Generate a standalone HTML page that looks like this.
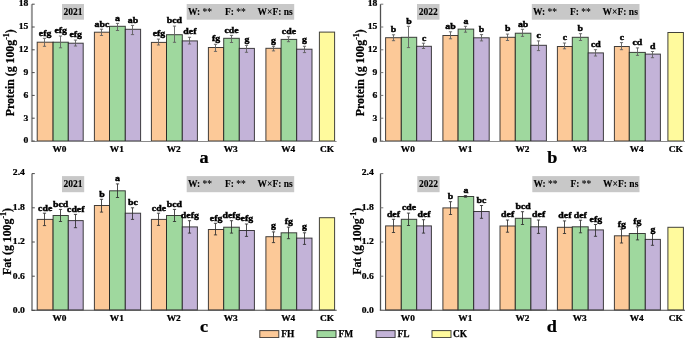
<!DOCTYPE html>
<html><head><meta charset="utf-8"><style>
html,body{margin:0;padding:0;background:#fff;overflow:hidden;}
svg{display:block;will-change:transform;filter:blur(0.35px);}
text{font-family:"Liberation Serif", serif;font-weight:bold;fill:#000;stroke:#000;stroke-width:0.25px;}
text.ns{stroke-width:0.1px;}
text.lb{stroke-width:0.4px;}
</style></head><body>
<svg width="685" height="338" viewBox="0 0 685 338">
<rect width="685" height="338" fill="#fff"/>
<rect x="37.20" y="42.20" width="15.90" height="98.80" fill="#fcc998" stroke="rgba(25,25,25,0.82)" stroke-width="1"/>
<path d="M44.50 38.30V46.30M42.90 38.30h3.2M42.90 46.30h3.2" stroke="#606060" stroke-width="0.9" fill="none"/>
<text transform="translate(45.15,35.60) scale(1.2,1)" font-size="8.2" text-anchor="middle" class="lb">efg</text>
<rect x="53.10" y="42.20" width="15.20" height="98.80" fill="#9fd89e" stroke="rgba(25,25,25,0.82)" stroke-width="1"/>
<path d="M60.50 36.00V47.80M58.90 36.00h3.2M58.90 47.80h3.2" stroke="#606060" stroke-width="0.9" fill="none"/>
<text transform="translate(60.70,33.30) scale(1.2,1)" font-size="8.2" text-anchor="middle" class="lb">efg</text>
<rect x="68.30" y="43.20" width="14.90" height="97.80" fill="#c3b3d8" stroke="rgba(25,25,25,0.82)" stroke-width="1"/>
<path d="M75.50 40.10V46.00M73.90 40.10h3.2M73.90 46.00h3.2" stroke="#606060" stroke-width="0.9" fill="none"/>
<text transform="translate(75.75,37.40) scale(1.2,1)" font-size="8.2" text-anchor="middle" class="lb">efg</text>
<rect x="94.40" y="32.20" width="15.10" height="108.80" fill="#fcc998" stroke="rgba(25,25,25,0.82)" stroke-width="1"/>
<path d="M101.50 29.20V35.50M99.90 29.20h3.2M99.90 35.50h3.2" stroke="#606060" stroke-width="0.9" fill="none"/>
<text transform="translate(101.95,26.50) scale(1.2,1)" font-size="8.2" text-anchor="middle" class="lb">abc</text>
<rect x="109.50" y="26.30" width="15.80" height="114.70" fill="#9fd89e" stroke="rgba(25,25,25,0.82)" stroke-width="1"/>
<path d="M117.50 23.40V30.50M115.90 23.40h3.2M115.90 30.50h3.2" stroke="#606060" stroke-width="0.9" fill="none"/>
<text transform="translate(117.40,20.70) scale(1.2,1)" font-size="8.2" text-anchor="middle" class="lb">a</text>
<rect x="125.30" y="29.30" width="15.30" height="111.70" fill="#c3b3d8" stroke="rgba(25,25,25,0.82)" stroke-width="1"/>
<path d="M132.50 25.40V34.60M130.90 25.40h3.2M130.90 34.60h3.2" stroke="#606060" stroke-width="0.9" fill="none"/>
<text transform="translate(132.95,22.70) scale(1.2,1)" font-size="8.2" text-anchor="middle" class="lb">ab</text>
<rect x="151.40" y="42.40" width="15.10" height="98.60" fill="#fcc998" stroke="rgba(25,25,25,0.82)" stroke-width="1"/>
<path d="M158.50 39.10V45.00M156.90 39.10h3.2M156.90 45.00h3.2" stroke="#606060" stroke-width="0.9" fill="none"/>
<text transform="translate(158.95,36.40) scale(1.2,1)" font-size="8.2" text-anchor="middle" class="lb">efg</text>
<rect x="166.50" y="34.70" width="15.80" height="106.30" fill="#9fd89e" stroke="rgba(25,25,25,0.82)" stroke-width="1"/>
<path d="M174.50 26.10V42.30M172.90 26.10h3.2M172.90 42.30h3.2" stroke="#606060" stroke-width="0.9" fill="none"/>
<text transform="translate(174.40,23.40) scale(1.2,1)" font-size="8.2" text-anchor="middle" class="lb">bcd</text>
<rect x="182.30" y="40.90" width="15.10" height="100.10" fill="#c3b3d8" stroke="rgba(25,25,25,0.82)" stroke-width="1"/>
<path d="M189.50 37.30V44.00M187.90 37.30h3.2M187.90 44.00h3.2" stroke="#606060" stroke-width="0.9" fill="none"/>
<text transform="translate(189.85,34.10) scale(1.2,1)" font-size="8.2" text-anchor="middle" class="lb">def</text>
<rect x="208.40" y="47.50" width="15.30" height="93.50" fill="#fcc998" stroke="rgba(25,25,25,0.82)" stroke-width="1"/>
<path d="M215.50 44.30V51.40M213.90 44.30h3.2M213.90 51.40h3.2" stroke="#606060" stroke-width="0.9" fill="none"/>
<text transform="translate(216.05,41.30) scale(1.2,1)" font-size="8.2" text-anchor="middle" class="lb">fg</text>
<rect x="223.70" y="38.30" width="15.60" height="102.70" fill="#9fd89e" stroke="rgba(25,25,25,0.82)" stroke-width="1"/>
<path d="M231.50 35.40V42.50M229.90 35.40h3.2M229.90 42.50h3.2" stroke="#606060" stroke-width="0.9" fill="none"/>
<text transform="translate(231.50,32.70) scale(1.2,1)" font-size="8.2" text-anchor="middle" class="lb">cde</text>
<rect x="239.30" y="48.40" width="15.10" height="92.60" fill="#c3b3d8" stroke="rgba(25,25,25,0.82)" stroke-width="1"/>
<path d="M246.50 45.40V52.30M244.90 45.40h3.2M244.90 52.30h3.2" stroke="#606060" stroke-width="0.9" fill="none"/>
<text transform="translate(246.85,41.80) scale(1.2,1)" font-size="8.2" text-anchor="middle" class="lb">g</text>
<rect x="265.90" y="48.30" width="15.20" height="92.70" fill="#fcc998" stroke="rgba(25,25,25,0.82)" stroke-width="1"/>
<path d="M273.50 46.30V50.90M271.90 46.30h3.2M271.90 50.90h3.2" stroke="#606060" stroke-width="0.9" fill="none"/>
<text transform="translate(273.50,42.60) scale(1.2,1)" font-size="8.2" text-anchor="middle" class="lb">g</text>
<rect x="281.10" y="39.40" width="15.60" height="101.60" fill="#9fd89e" stroke="rgba(25,25,25,0.82)" stroke-width="1"/>
<path d="M288.50 36.80V41.70M286.90 36.80h3.2M286.90 41.70h3.2" stroke="#606060" stroke-width="0.9" fill="none"/>
<text transform="translate(288.90,34.10) scale(1.2,1)" font-size="8.2" text-anchor="middle" class="lb">cde</text>
<rect x="296.70" y="49.20" width="15.30" height="91.80" fill="#c3b3d8" stroke="rgba(25,25,25,0.82)" stroke-width="1"/>
<path d="M304.50 46.30V52.60M302.90 46.30h3.2M302.90 52.60h3.2" stroke="#606060" stroke-width="0.9" fill="none"/>
<text transform="translate(304.35,42.40) scale(1.2,1)" font-size="8.2" text-anchor="middle" class="lb">g</text>
<rect x="319.40" y="32.10" width="15.20" height="108.90" fill="#fffa9d" stroke="rgba(25,25,25,0.82)" stroke-width="1"/>
<path d="M31.90 4.20V141.45" stroke="#999999" stroke-width="2.0" fill="none"/>
<path d="M31.20 141.45H336.60" stroke="#8a8a8a" stroke-width="1.1" fill="none"/>
<path d="M31.90 141.00h2.8" stroke="#4a4a4a" stroke-width="1"/>
<text transform="translate(28.30,143.40) scale(1.12,1)" font-size="8.6" text-anchor="end" >0</text>
<path d="M31.90 118.20h2.8" stroke="#4a4a4a" stroke-width="1"/>
<text transform="translate(28.30,120.60) scale(1.12,1)" font-size="8.6" text-anchor="end" >3</text>
<path d="M31.90 95.40h2.8" stroke="#4a4a4a" stroke-width="1"/>
<text transform="translate(28.30,97.80) scale(1.12,1)" font-size="8.6" text-anchor="end" >6</text>
<path d="M31.90 72.60h2.8" stroke="#4a4a4a" stroke-width="1"/>
<text transform="translate(28.30,75.00) scale(1.12,1)" font-size="8.6" text-anchor="end" >9</text>
<path d="M31.90 49.80h2.8" stroke="#4a4a4a" stroke-width="1"/>
<text transform="translate(28.30,52.20) scale(1.12,1)" font-size="8.6" text-anchor="end" >12</text>
<path d="M31.90 27.00h2.8" stroke="#4a4a4a" stroke-width="1"/>
<text transform="translate(28.30,29.40) scale(1.12,1)" font-size="8.6" text-anchor="end" >15</text>
<path d="M31.90 4.20h2.8" stroke="#4a4a4a" stroke-width="1"/>
<text transform="translate(28.30,6.00) scale(1.12,1)" font-size="8.6" text-anchor="end" >18</text>
<text transform="translate(59.50,151.90) scale(1.1,1)" font-size="8.5" text-anchor="middle" >W0</text>
<text transform="translate(116.80,151.90) scale(1.1,1)" font-size="8.5" text-anchor="middle" >W1</text>
<text transform="translate(173.70,151.90) scale(1.1,1)" font-size="8.5" text-anchor="middle" >W2</text>
<text transform="translate(230.70,151.90) scale(1.1,1)" font-size="8.5" text-anchor="middle" >W3</text>
<text transform="translate(288.25,151.90) scale(1.1,1)" font-size="8.5" text-anchor="middle" >W4</text>
<text transform="translate(327.00,151.90) scale(1.1,1)" font-size="8.5" text-anchor="middle" >CK</text>
<rect x="62.00" y="4.00" width="22.00" height="15.70" fill="#c8c8c8"/>
<text x="73.00" y="14.90" font-size="9.5" text-anchor="middle" class="ns">2021</text>
<rect x="186.70" y="4.00" width="107.50" height="15.70" fill="#c8c8c8"/>
<text x="188.00" y="14.90" font-size="9.5" text-anchor="start" class="ns">W: <tspan font-weight="normal">**</tspan></text>
<text x="224.90" y="14.90" font-size="9.5" text-anchor="start" class="ns">F: <tspan font-weight="normal">**</tspan></text>
<text x="257.50" y="14.90" font-size="9.5" text-anchor="start" class="ns">W×F: ns</text>
<text transform="translate(14.40,116.30) rotate(-90) scale(0.875,1)" font-size="13.5" text-anchor="start">Protein (g 100g<tspan font-size="9" dy="-5">-1</tspan><tspan dy="5">)</tspan></text>
<text transform="translate(204.00,162.70) scale(1.1,1)" font-size="16.5" text-anchor="middle" >a</text>
<rect x="385.60" y="37.70" width="15.70" height="103.30" fill="#fcc998" stroke="rgba(25,25,25,0.82)" stroke-width="1"/>
<path d="M393.50 34.80V40.70M391.90 34.80h3.2M391.90 40.70h3.2" stroke="#606060" stroke-width="0.9" fill="none"/>
<text transform="translate(393.45,32.10) scale(1.2,1)" font-size="8.2" text-anchor="middle" class="lb">b</text>
<rect x="401.30" y="37.30" width="15.40" height="103.70" fill="#9fd89e" stroke="rgba(25,25,25,0.82)" stroke-width="1"/>
<path d="M408.50 26.30V47.60M406.90 26.30h3.2M406.90 47.60h3.2" stroke="#606060" stroke-width="0.9" fill="none"/>
<text transform="translate(409.00,23.60) scale(1.2,1)" font-size="8.2" text-anchor="middle" class="lb">b</text>
<rect x="416.70" y="46.30" width="14.70" height="94.70" fill="#c3b3d8" stroke="rgba(25,25,25,0.82)" stroke-width="1"/>
<path d="M423.50 43.20V48.50M421.90 43.20h3.2M421.90 48.50h3.2" stroke="#606060" stroke-width="0.9" fill="none"/>
<text transform="translate(424.05,40.50) scale(1.2,1)" font-size="8.2" text-anchor="middle" class="lb">c</text>
<rect x="442.90" y="35.50" width="15.20" height="105.50" fill="#fcc998" stroke="rgba(25,25,25,0.82)" stroke-width="1"/>
<path d="M450.50 31.80V38.80M448.90 31.80h3.2M448.90 38.80h3.2" stroke="#606060" stroke-width="0.9" fill="none"/>
<text transform="translate(450.50,29.10) scale(1.2,1)" font-size="8.2" text-anchor="middle" class="lb">ab</text>
<rect x="458.10" y="29.10" width="15.60" height="111.90" fill="#9fd89e" stroke="rgba(25,25,25,0.82)" stroke-width="1"/>
<path d="M465.50 26.30V32.20M463.90 26.30h3.2M463.90 32.20h3.2" stroke="#606060" stroke-width="0.9" fill="none"/>
<text transform="translate(465.90,23.60) scale(1.2,1)" font-size="8.2" text-anchor="middle" class="lb">a</text>
<rect x="473.70" y="37.80" width="15.50" height="103.20" fill="#c3b3d8" stroke="rgba(25,25,25,0.82)" stroke-width="1"/>
<path d="M481.50 34.60V40.90M479.90 34.60h3.2M479.90 40.90h3.2" stroke="#606060" stroke-width="0.9" fill="none"/>
<text transform="translate(481.45,31.90) scale(1.2,1)" font-size="8.2" text-anchor="middle" class="lb">b</text>
<rect x="500.00" y="37.30" width="15.30" height="103.70" fill="#fcc998" stroke="rgba(25,25,25,0.82)" stroke-width="1"/>
<path d="M507.50 34.10V40.50M505.90 34.10h3.2M505.90 40.50h3.2" stroke="#606060" stroke-width="0.9" fill="none"/>
<text transform="translate(507.65,31.40) scale(1.2,1)" font-size="8.2" text-anchor="middle" class="lb">b</text>
<rect x="515.30" y="33.20" width="15.60" height="107.80" fill="#9fd89e" stroke="rgba(25,25,25,0.82)" stroke-width="1"/>
<path d="M522.50 29.30V36.40M520.90 29.30h3.2M520.90 36.40h3.2" stroke="#606060" stroke-width="0.9" fill="none"/>
<text transform="translate(523.10,26.60) scale(1.2,1)" font-size="8.2" text-anchor="middle" class="lb">ab</text>
<rect x="530.90" y="45.30" width="15.50" height="95.70" fill="#c3b3d8" stroke="rgba(25,25,25,0.82)" stroke-width="1"/>
<path d="M538.50 40.90V50.60M536.90 40.90h3.2M536.90 50.60h3.2" stroke="#606060" stroke-width="0.9" fill="none"/>
<text transform="translate(538.65,38.20) scale(1.2,1)" font-size="8.2" text-anchor="middle" class="lb">c</text>
<rect x="557.40" y="46.50" width="14.90" height="94.50" fill="#fcc998" stroke="rgba(25,25,25,0.82)" stroke-width="1"/>
<path d="M564.50 43.00V48.80M562.90 43.00h3.2M562.90 48.80h3.2" stroke="#606060" stroke-width="0.9" fill="none"/>
<text transform="translate(564.85,40.30) scale(1.2,1)" font-size="8.2" text-anchor="middle" class="lb">c</text>
<rect x="572.30" y="37.30" width="15.90" height="103.70" fill="#9fd89e" stroke="rgba(25,25,25,0.82)" stroke-width="1"/>
<path d="M580.50 33.70V40.50M578.90 33.70h3.2M578.90 40.50h3.2" stroke="#606060" stroke-width="0.9" fill="none"/>
<text transform="translate(580.25,31.00) scale(1.2,1)" font-size="8.2" text-anchor="middle" class="lb">b</text>
<rect x="588.20" y="52.90" width="15.20" height="88.10" fill="#c3b3d8" stroke="rgba(25,25,25,0.82)" stroke-width="1"/>
<path d="M595.50 49.70V56.00M593.90 49.70h3.2M593.90 56.00h3.2" stroke="#606060" stroke-width="0.9" fill="none"/>
<text transform="translate(595.80,47.00) scale(1.2,1)" font-size="8.2" text-anchor="middle" class="lb">cd</text>
<rect x="614.40" y="46.50" width="14.90" height="94.50" fill="#fcc998" stroke="rgba(25,25,25,0.82)" stroke-width="1"/>
<path d="M621.50 42.60V49.70M619.90 42.60h3.2M619.90 49.70h3.2" stroke="#606060" stroke-width="0.9" fill="none"/>
<text transform="translate(621.85,39.90) scale(1.2,1)" font-size="8.2" text-anchor="middle" class="lb">c</text>
<rect x="629.30" y="52.40" width="16.00" height="88.60" fill="#9fd89e" stroke="rgba(25,25,25,0.82)" stroke-width="1"/>
<path d="M637.50 47.90V55.40M635.90 47.90h3.2M635.90 55.40h3.2" stroke="#606060" stroke-width="0.9" fill="none"/>
<text transform="translate(637.30,45.20) scale(1.2,1)" font-size="8.2" text-anchor="middle" class="lb">cd</text>
<rect x="645.30" y="54.10" width="15.10" height="86.90" fill="#c3b3d8" stroke="rgba(25,25,25,0.82)" stroke-width="1"/>
<path d="M652.50 51.50V57.70M650.90 51.50h3.2M650.90 57.70h3.2" stroke="#606060" stroke-width="0.9" fill="none"/>
<text transform="translate(652.85,48.80) scale(1.2,1)" font-size="8.2" text-anchor="middle" class="lb">d</text>
<rect x="667.90" y="32.50" width="15.50" height="108.50" fill="#fffa9d" stroke="rgba(25,25,25,0.82)" stroke-width="1"/>
<path d="M380.50 4.20V141.45" stroke="#505050" stroke-width="1.3" fill="none"/>
<path d="M379.80 141.45H685.20" stroke="#8a8a8a" stroke-width="1.1" fill="none"/>
<path d="M380.50 141.00h2.8" stroke="#777777" stroke-width="1"/>
<text transform="translate(377.30,143.40) scale(1.12,1)" font-size="8.6" text-anchor="end" >0</text>
<path d="M380.50 118.20h2.8" stroke="#777777" stroke-width="1"/>
<text transform="translate(377.30,120.60) scale(1.12,1)" font-size="8.6" text-anchor="end" >3</text>
<path d="M380.50 95.40h2.8" stroke="#777777" stroke-width="1"/>
<text transform="translate(377.30,97.80) scale(1.12,1)" font-size="8.6" text-anchor="end" >6</text>
<path d="M380.50 72.60h2.8" stroke="#777777" stroke-width="1"/>
<text transform="translate(377.30,75.00) scale(1.12,1)" font-size="8.6" text-anchor="end" >9</text>
<path d="M380.50 49.80h2.8" stroke="#777777" stroke-width="1"/>
<text transform="translate(377.30,52.20) scale(1.12,1)" font-size="8.6" text-anchor="end" >12</text>
<path d="M380.50 27.00h2.8" stroke="#777777" stroke-width="1"/>
<text transform="translate(377.30,29.40) scale(1.12,1)" font-size="8.6" text-anchor="end" >15</text>
<path d="M380.50 4.20h2.8" stroke="#777777" stroke-width="1"/>
<text transform="translate(377.30,6.00) scale(1.12,1)" font-size="8.6" text-anchor="end" >18</text>
<text transform="translate(407.80,151.90) scale(1.1,1)" font-size="8.5" text-anchor="middle" >W0</text>
<text transform="translate(465.35,151.90) scale(1.1,1)" font-size="8.5" text-anchor="middle" >W1</text>
<text transform="translate(522.50,151.90) scale(1.1,1)" font-size="8.5" text-anchor="middle" >W2</text>
<text transform="translate(579.70,151.90) scale(1.1,1)" font-size="8.5" text-anchor="middle" >W3</text>
<text transform="translate(636.70,151.90) scale(1.1,1)" font-size="8.5" text-anchor="middle" >W4</text>
<text transform="translate(675.65,151.90) scale(1.1,1)" font-size="8.5" text-anchor="middle" >CK</text>
<rect x="417.00" y="4.00" width="22.50" height="15.70" fill="#c8c8c8"/>
<text x="428.25" y="14.90" font-size="9.5" text-anchor="middle" class="ns">2022</text>
<rect x="531.80" y="4.00" width="107.70" height="15.70" fill="#c8c8c8"/>
<text x="533.10" y="14.90" font-size="9.5" text-anchor="start" class="ns">W: <tspan font-weight="normal">**</tspan></text>
<text x="570.00" y="14.90" font-size="9.5" text-anchor="start" class="ns">F: <tspan font-weight="normal">**</tspan></text>
<text x="602.60" y="14.90" font-size="9.5" text-anchor="start" class="ns">W×F: ns</text>
<text transform="translate(363.50,116.30) rotate(-90) scale(0.875,1)" font-size="13.5" text-anchor="start">Protein (g 100g<tspan font-size="9" dy="-5">-1</tspan><tspan dy="5">)</tspan></text>
<text transform="translate(552.40,162.80) scale(1.1,1)" font-size="16.5" text-anchor="middle" >b</text>
<rect x="37.20" y="219.40" width="15.90" height="90.60" fill="#fcc998" stroke="rgba(25,25,25,0.82)" stroke-width="1"/>
<path d="M44.50 213.20V225.60M42.90 213.20h3.2M42.90 225.60h3.2" stroke="#2e2e2e" stroke-width="0.85" fill="none"/>
<text transform="translate(45.15,210.50) scale(1.2,1)" font-size="8.2" text-anchor="middle" class="lb">cde</text>
<rect x="53.10" y="215.50" width="15.20" height="94.50" fill="#9fd89e" stroke="rgba(25,25,25,0.82)" stroke-width="1"/>
<path d="M60.50 209.40V221.50M58.90 209.40h3.2M58.90 221.50h3.2" stroke="#2e2e2e" stroke-width="0.85" fill="none"/>
<text transform="translate(60.70,206.70) scale(1.2,1)" font-size="8.2" text-anchor="middle" class="lb">bcd</text>
<rect x="68.30" y="220.60" width="14.90" height="89.40" fill="#c3b3d8" stroke="rgba(25,25,25,0.82)" stroke-width="1"/>
<path d="M75.50 214.40V227.70M73.90 214.40h3.2M73.90 227.70h3.2" stroke="#2e2e2e" stroke-width="0.85" fill="none"/>
<text transform="translate(75.75,211.70) scale(1.2,1)" font-size="8.2" text-anchor="middle" class="lb">cdef</text>
<rect x="94.40" y="205.50" width="15.10" height="104.50" fill="#fcc998" stroke="rgba(25,25,25,0.82)" stroke-width="1"/>
<path d="M101.50 199.30V212.10M99.90 199.30h3.2M99.90 212.10h3.2" stroke="#2e2e2e" stroke-width="0.85" fill="none"/>
<text transform="translate(101.95,196.60) scale(1.2,1)" font-size="8.2" text-anchor="middle" class="lb">b</text>
<rect x="109.50" y="190.80" width="15.80" height="119.20" fill="#9fd89e" stroke="rgba(25,25,25,0.82)" stroke-width="1"/>
<path d="M117.50 183.90V197.50M115.90 183.90h3.2M115.90 197.50h3.2" stroke="#2e2e2e" stroke-width="0.85" fill="none"/>
<text transform="translate(117.40,181.20) scale(1.2,1)" font-size="8.2" text-anchor="middle" class="lb">a</text>
<rect x="125.30" y="213.20" width="15.30" height="96.80" fill="#c3b3d8" stroke="rgba(25,25,25,0.82)" stroke-width="1"/>
<path d="M132.50 207.80V219.40M130.90 207.80h3.2M130.90 219.40h3.2" stroke="#2e2e2e" stroke-width="0.85" fill="none"/>
<text transform="translate(132.95,205.10) scale(1.2,1)" font-size="8.2" text-anchor="middle" class="lb">bc</text>
<rect x="151.40" y="219.40" width="15.10" height="90.60" fill="#fcc998" stroke="rgba(25,25,25,0.82)" stroke-width="1"/>
<path d="M158.50 213.20V225.40M156.90 213.20h3.2M156.90 225.40h3.2" stroke="#2e2e2e" stroke-width="0.85" fill="none"/>
<text transform="translate(158.95,210.50) scale(1.2,1)" font-size="8.2" text-anchor="middle" class="lb">cde</text>
<rect x="166.50" y="215.50" width="15.80" height="94.50" fill="#9fd89e" stroke="rgba(25,25,25,0.82)" stroke-width="1"/>
<path d="M174.50 209.40V221.50M172.90 209.40h3.2M172.90 221.50h3.2" stroke="#2e2e2e" stroke-width="0.85" fill="none"/>
<text transform="translate(174.40,206.70) scale(1.2,1)" font-size="8.2" text-anchor="middle" class="lb">bcd</text>
<rect x="182.30" y="226.90" width="15.10" height="83.10" fill="#c3b3d8" stroke="rgba(25,25,25,0.82)" stroke-width="1"/>
<path d="M189.50 220.70V233.10M187.90 220.70h3.2M187.90 233.10h3.2" stroke="#2e2e2e" stroke-width="0.85" fill="none"/>
<text transform="translate(189.85,218.00) scale(1.2,1)" font-size="8.2" text-anchor="middle" class="lb">defg</text>
<rect x="208.40" y="229.50" width="15.30" height="80.50" fill="#fcc998" stroke="rgba(25,25,25,0.82)" stroke-width="1"/>
<path d="M215.50 223.30V234.90M213.90 223.30h3.2M213.90 234.90h3.2" stroke="#2e2e2e" stroke-width="0.85" fill="none"/>
<text transform="translate(216.05,220.60) scale(1.2,1)" font-size="8.2" text-anchor="middle" class="lb">efg</text>
<rect x="223.70" y="227.20" width="15.60" height="82.80" fill="#9fd89e" stroke="rgba(25,25,25,0.82)" stroke-width="1"/>
<path d="M231.50 220.70V233.10M229.90 220.70h3.2M229.90 233.10h3.2" stroke="#2e2e2e" stroke-width="0.85" fill="none"/>
<text transform="translate(231.50,218.00) scale(1.2,1)" font-size="8.2" text-anchor="middle" class="lb">defg</text>
<rect x="239.30" y="230.50" width="15.10" height="79.50" fill="#c3b3d8" stroke="rgba(25,25,25,0.82)" stroke-width="1"/>
<path d="M246.50 224.00V236.40M244.90 224.00h3.2M244.90 236.40h3.2" stroke="#2e2e2e" stroke-width="0.85" fill="none"/>
<text transform="translate(246.85,221.30) scale(1.2,1)" font-size="8.2" text-anchor="middle" class="lb">efg</text>
<rect x="265.90" y="236.70" width="15.20" height="73.30" fill="#fcc998" stroke="rgba(25,25,25,0.82)" stroke-width="1"/>
<path d="M273.50 231.90V242.60M271.90 231.90h3.2M271.90 242.60h3.2" stroke="#2e2e2e" stroke-width="0.85" fill="none"/>
<text transform="translate(273.50,228.00) scale(1.2,1)" font-size="8.2" text-anchor="middle" class="lb">g</text>
<rect x="281.10" y="232.80" width="15.60" height="77.20" fill="#9fd89e" stroke="rgba(25,25,25,0.82)" stroke-width="1"/>
<path d="M288.50 227.10V238.70M286.90 227.10h3.2M286.90 238.70h3.2" stroke="#2e2e2e" stroke-width="0.85" fill="none"/>
<text transform="translate(288.90,223.80) scale(1.2,1)" font-size="8.2" text-anchor="middle" class="lb">fg</text>
<rect x="296.70" y="238.10" width="15.30" height="71.90" fill="#c3b3d8" stroke="rgba(25,25,25,0.82)" stroke-width="1"/>
<path d="M304.50 232.80V244.40M302.90 232.80h3.2M302.90 244.40h3.2" stroke="#2e2e2e" stroke-width="0.85" fill="none"/>
<text transform="translate(304.35,229.20) scale(1.2,1)" font-size="8.2" text-anchor="middle" class="lb">g</text>
<rect x="319.40" y="217.70" width="15.20" height="92.30" fill="#fffa9d" stroke="rgba(25,25,25,0.82)" stroke-width="1"/>
<path d="M32.00 173.60V310.25" stroke="#999999" stroke-width="2.0" fill="none"/>
<path d="M31.30 310.25H336.70" stroke="#4a4a4a" stroke-width="1.1" fill="none"/>
<path d="M32.00 310.40h2.8" stroke="#4a4a4a" stroke-width="1"/>
<text transform="translate(24.90,312.80) scale(1.12,1)" font-size="8.6" text-anchor="end" >0.0</text>
<path d="M32.00 276.20h2.8" stroke="#4a4a4a" stroke-width="1"/>
<text transform="translate(24.90,278.60) scale(1.12,1)" font-size="8.6" text-anchor="end" >0.6</text>
<path d="M32.00 242.00h2.8" stroke="#4a4a4a" stroke-width="1"/>
<text transform="translate(24.90,244.40) scale(1.12,1)" font-size="8.6" text-anchor="end" >1.2</text>
<path d="M32.00 207.80h2.8" stroke="#4a4a4a" stroke-width="1"/>
<text transform="translate(24.90,210.20) scale(1.12,1)" font-size="8.6" text-anchor="end" >1.8</text>
<path d="M32.00 173.60h2.8" stroke="#4a4a4a" stroke-width="1"/>
<text transform="translate(24.90,175.40) scale(1.12,1)" font-size="8.6" text-anchor="end" >2.4</text>
<text transform="translate(59.50,321.40) scale(1.1,1)" font-size="8.5" text-anchor="middle" >W0</text>
<text transform="translate(116.80,321.40) scale(1.1,1)" font-size="8.5" text-anchor="middle" >W1</text>
<text transform="translate(173.70,321.40) scale(1.1,1)" font-size="8.5" text-anchor="middle" >W2</text>
<text transform="translate(230.70,321.40) scale(1.1,1)" font-size="8.5" text-anchor="middle" >W3</text>
<text transform="translate(288.25,321.40) scale(1.1,1)" font-size="8.5" text-anchor="middle" >W4</text>
<text transform="translate(327.00,321.40) scale(1.1,1)" font-size="8.5" text-anchor="middle" >CK</text>
<rect x="62.00" y="176.10" width="22.20" height="16.10" fill="#c8c8c8"/>
<text x="73.10" y="187.00" font-size="9.5" text-anchor="middle" class="ns">2021</text>
<rect x="186.70" y="176.10" width="107.50" height="16.10" fill="#c8c8c8"/>
<text x="188.00" y="187.00" font-size="9.5" text-anchor="start" class="ns">W: <tspan font-weight="normal">**</tspan></text>
<text x="224.90" y="187.00" font-size="9.5" text-anchor="start" class="ns">F: <tspan font-weight="normal">**</tspan></text>
<text x="257.50" y="187.00" font-size="9.5" text-anchor="start" class="ns">W×F: ns</text>
<text transform="translate(11.30,275.00) rotate(-90) scale(0.875,1)" font-size="13.5" text-anchor="start">Fat (g 100g<tspan font-size="9" dy="-5">-1</tspan><tspan dy="5">)</tspan></text>
<text transform="translate(204.00,332.00) scale(1.1,1)" font-size="16.5" text-anchor="middle" >c</text>
<rect x="385.60" y="225.90" width="15.70" height="84.10" fill="#fcc998" stroke="rgba(25,25,25,0.82)" stroke-width="1"/>
<path d="M393.50 219.30V232.50M391.90 219.30h3.2M391.90 232.50h3.2" stroke="#2e2e2e" stroke-width="0.85" fill="none"/>
<text transform="translate(393.45,216.60) scale(1.2,1)" font-size="8.2" text-anchor="middle" class="lb">def</text>
<rect x="401.30" y="219.30" width="15.40" height="90.70" fill="#9fd89e" stroke="rgba(25,25,25,0.82)" stroke-width="1"/>
<path d="M408.50 213.10V225.50M406.90 213.10h3.2M406.90 225.50h3.2" stroke="#2e2e2e" stroke-width="0.85" fill="none"/>
<text transform="translate(409.00,210.40) scale(1.2,1)" font-size="8.2" text-anchor="middle" class="lb">cde</text>
<rect x="416.70" y="225.90" width="14.70" height="84.10" fill="#c3b3d8" stroke="rgba(25,25,25,0.82)" stroke-width="1"/>
<path d="M423.50 219.70V233.10M421.90 219.70h3.2M421.90 233.10h3.2" stroke="#2e2e2e" stroke-width="0.85" fill="none"/>
<text transform="translate(424.05,217.00) scale(1.2,1)" font-size="8.2" text-anchor="middle" class="lb">def</text>
<rect x="442.90" y="207.90" width="15.20" height="102.10" fill="#fcc998" stroke="rgba(25,25,25,0.82)" stroke-width="1"/>
<path d="M450.50 201.70V214.50M448.90 201.70h3.2M448.90 214.50h3.2" stroke="#2e2e2e" stroke-width="0.85" fill="none"/>
<text transform="translate(450.50,199.00) scale(1.2,1)" font-size="8.2" text-anchor="middle" class="lb">b</text>
<rect x="458.10" y="196.50" width="15.60" height="113.50" fill="#9fd89e" stroke="rgba(25,25,25,0.82)" stroke-width="1"/>
<path d="M465.50 195.60V197.20M463.90 195.60h3.2M463.90 197.20h3.2" stroke="#2e2e2e" stroke-width="0.85" fill="none"/>
<text transform="translate(465.90,192.90) scale(1.2,1)" font-size="8.2" text-anchor="middle" class="lb">a</text>
<rect x="473.70" y="211.50" width="15.50" height="98.50" fill="#c3b3d8" stroke="rgba(25,25,25,0.82)" stroke-width="1"/>
<path d="M481.50 205.50V218.30M479.90 205.50h3.2M479.90 218.30h3.2" stroke="#2e2e2e" stroke-width="0.85" fill="none"/>
<text transform="translate(481.45,202.80) scale(1.2,1)" font-size="8.2" text-anchor="middle" class="lb">bc</text>
<rect x="500.00" y="226.00" width="15.30" height="84.00" fill="#fcc998" stroke="rgba(25,25,25,0.82)" stroke-width="1"/>
<path d="M507.50 220.00V232.20M505.90 220.00h3.2M505.90 232.20h3.2" stroke="#2e2e2e" stroke-width="0.85" fill="none"/>
<text transform="translate(507.65,217.30) scale(1.2,1)" font-size="8.2" text-anchor="middle" class="lb">def</text>
<rect x="515.30" y="218.30" width="15.60" height="91.70" fill="#9fd89e" stroke="rgba(25,25,25,0.82)" stroke-width="1"/>
<path d="M522.50 211.70V224.50M520.90 211.70h3.2M520.90 224.50h3.2" stroke="#2e2e2e" stroke-width="0.85" fill="none"/>
<text transform="translate(523.10,209.00) scale(1.2,1)" font-size="8.2" text-anchor="middle" class="lb">bcd</text>
<rect x="530.90" y="226.80" width="15.50" height="83.20" fill="#c3b3d8" stroke="rgba(25,25,25,0.82)" stroke-width="1"/>
<path d="M538.50 220.00V233.40M536.90 220.00h3.2M536.90 233.40h3.2" stroke="#2e2e2e" stroke-width="0.85" fill="none"/>
<text transform="translate(538.65,217.30) scale(1.2,1)" font-size="8.2" text-anchor="middle" class="lb">def</text>
<rect x="557.40" y="227.30" width="14.90" height="82.70" fill="#fcc998" stroke="rgba(25,25,25,0.82)" stroke-width="1"/>
<path d="M564.50 220.90V233.50M562.90 220.90h3.2M562.90 233.50h3.2" stroke="#2e2e2e" stroke-width="0.85" fill="none"/>
<text transform="translate(564.85,218.20) scale(1.2,1)" font-size="8.2" text-anchor="middle" class="lb">def</text>
<rect x="572.30" y="226.80" width="15.90" height="83.20" fill="#9fd89e" stroke="rgba(25,25,25,0.82)" stroke-width="1"/>
<path d="M580.50 220.20V232.80M578.90 220.20h3.2M578.90 232.80h3.2" stroke="#2e2e2e" stroke-width="0.85" fill="none"/>
<text transform="translate(580.25,217.50) scale(1.2,1)" font-size="8.2" text-anchor="middle" class="lb">def</text>
<rect x="588.20" y="229.90" width="15.20" height="80.10" fill="#c3b3d8" stroke="rgba(25,25,25,0.82)" stroke-width="1"/>
<path d="M595.50 224.50V236.30M593.90 224.50h3.2M593.90 236.30h3.2" stroke="#2e2e2e" stroke-width="0.85" fill="none"/>
<text transform="translate(595.80,221.80) scale(1.2,1)" font-size="8.2" text-anchor="middle" class="lb">efg</text>
<rect x="614.40" y="235.80" width="14.90" height="74.20" fill="#fcc998" stroke="rgba(25,25,25,0.82)" stroke-width="1"/>
<path d="M621.50 229.20V243.00M619.90 229.20h3.2M619.90 243.00h3.2" stroke="#2e2e2e" stroke-width="0.85" fill="none"/>
<text transform="translate(621.85,227.00) scale(1.2,1)" font-size="8.2" text-anchor="middle" class="lb">fg</text>
<rect x="629.30" y="233.50" width="16.00" height="76.50" fill="#9fd89e" stroke="rgba(25,25,25,0.82)" stroke-width="1"/>
<path d="M637.50 226.80V239.90M635.90 226.80h3.2M635.90 239.90h3.2" stroke="#2e2e2e" stroke-width="0.85" fill="none"/>
<text transform="translate(637.30,224.10) scale(1.2,1)" font-size="8.2" text-anchor="middle" class="lb">fg</text>
<rect x="645.30" y="239.40" width="15.10" height="70.60" fill="#c3b3d8" stroke="rgba(25,25,25,0.82)" stroke-width="1"/>
<path d="M652.50 233.50V245.30M650.90 233.50h3.2M650.90 245.30h3.2" stroke="#2e2e2e" stroke-width="0.85" fill="none"/>
<text transform="translate(652.85,231.80) scale(1.2,1)" font-size="8.2" text-anchor="middle" class="lb">g</text>
<rect x="667.90" y="227.30" width="15.50" height="82.70" fill="#fffa9d" stroke="rgba(25,25,25,0.82)" stroke-width="1"/>
<path d="M380.50 173.60V310.25" stroke="#505050" stroke-width="1.3" fill="none"/>
<path d="M379.80 310.25H685.20" stroke="#4a4a4a" stroke-width="1.1" fill="none"/>
<path d="M380.50 310.40h2.8" stroke="#777777" stroke-width="1"/>
<text transform="translate(373.70,312.80) scale(1.12,1)" font-size="8.6" text-anchor="end" >0.0</text>
<path d="M380.50 276.20h2.8" stroke="#777777" stroke-width="1"/>
<text transform="translate(373.70,278.60) scale(1.12,1)" font-size="8.6" text-anchor="end" >0.6</text>
<path d="M380.50 242.00h2.8" stroke="#777777" stroke-width="1"/>
<text transform="translate(373.70,244.40) scale(1.12,1)" font-size="8.6" text-anchor="end" >1.2</text>
<path d="M380.50 207.80h2.8" stroke="#777777" stroke-width="1"/>
<text transform="translate(373.70,210.20) scale(1.12,1)" font-size="8.6" text-anchor="end" >1.8</text>
<path d="M380.50 173.60h2.8" stroke="#777777" stroke-width="1"/>
<text transform="translate(373.70,175.40) scale(1.12,1)" font-size="8.6" text-anchor="end" >2.4</text>
<text transform="translate(407.80,321.40) scale(1.1,1)" font-size="8.5" text-anchor="middle" >W0</text>
<text transform="translate(465.35,321.40) scale(1.1,1)" font-size="8.5" text-anchor="middle" >W1</text>
<text transform="translate(522.50,321.40) scale(1.1,1)" font-size="8.5" text-anchor="middle" >W2</text>
<text transform="translate(579.70,321.40) scale(1.1,1)" font-size="8.5" text-anchor="middle" >W3</text>
<text transform="translate(636.70,321.40) scale(1.1,1)" font-size="8.5" text-anchor="middle" >W4</text>
<text transform="translate(675.65,321.40) scale(1.1,1)" font-size="8.5" text-anchor="middle" >CK</text>
<rect x="417.30" y="176.10" width="22.30" height="16.10" fill="#c8c8c8"/>
<text x="428.45" y="187.00" font-size="9.5" text-anchor="middle" class="ns">2022</text>
<rect x="532.30" y="176.10" width="107.20" height="16.10" fill="#c8c8c8"/>
<text x="533.60" y="187.00" font-size="9.5" text-anchor="start" class="ns">W: <tspan font-weight="normal">**</tspan></text>
<text x="570.50" y="187.00" font-size="9.5" text-anchor="start" class="ns">F: <tspan font-weight="normal">**</tspan></text>
<text x="603.10" y="187.00" font-size="9.5" text-anchor="start" class="ns">W×F: ns</text>
<text transform="translate(361.20,274.80) rotate(-90) scale(0.875,1)" font-size="13.5" text-anchor="start">Fat (g 100g<tspan font-size="9" dy="-5">-1</tspan><tspan dy="5">)</tspan></text>
<text transform="translate(551.70,331.60) scale(1.1,1)" font-size="16.5" text-anchor="middle" >d</text>
<rect x="259.80" y="330.6" width="19" height="7" fill="#fcc998" stroke="rgba(25,25,25,0.82)" stroke-width="1"/>
<text x="281.30" y="336.80" font-size="9.4" text-anchor="start" >FH</text>
<rect x="317.00" y="330.6" width="19" height="7" fill="#9fd89e" stroke="rgba(25,25,25,0.82)" stroke-width="1"/>
<text x="338.50" y="336.80" font-size="9.4" text-anchor="start" >FM</text>
<rect x="376.10" y="330.6" width="19" height="7" fill="#c3b3d8" stroke="rgba(25,25,25,0.82)" stroke-width="1"/>
<text x="397.60" y="336.80" font-size="9.4" text-anchor="start" >FL</text>
<rect x="432.00" y="330.6" width="19" height="7" fill="#fffa9d" stroke="rgba(25,25,25,0.82)" stroke-width="1"/>
<text x="453.00" y="336.80" font-size="9.4" text-anchor="start" >CK</text>
</svg>
</body></html>
